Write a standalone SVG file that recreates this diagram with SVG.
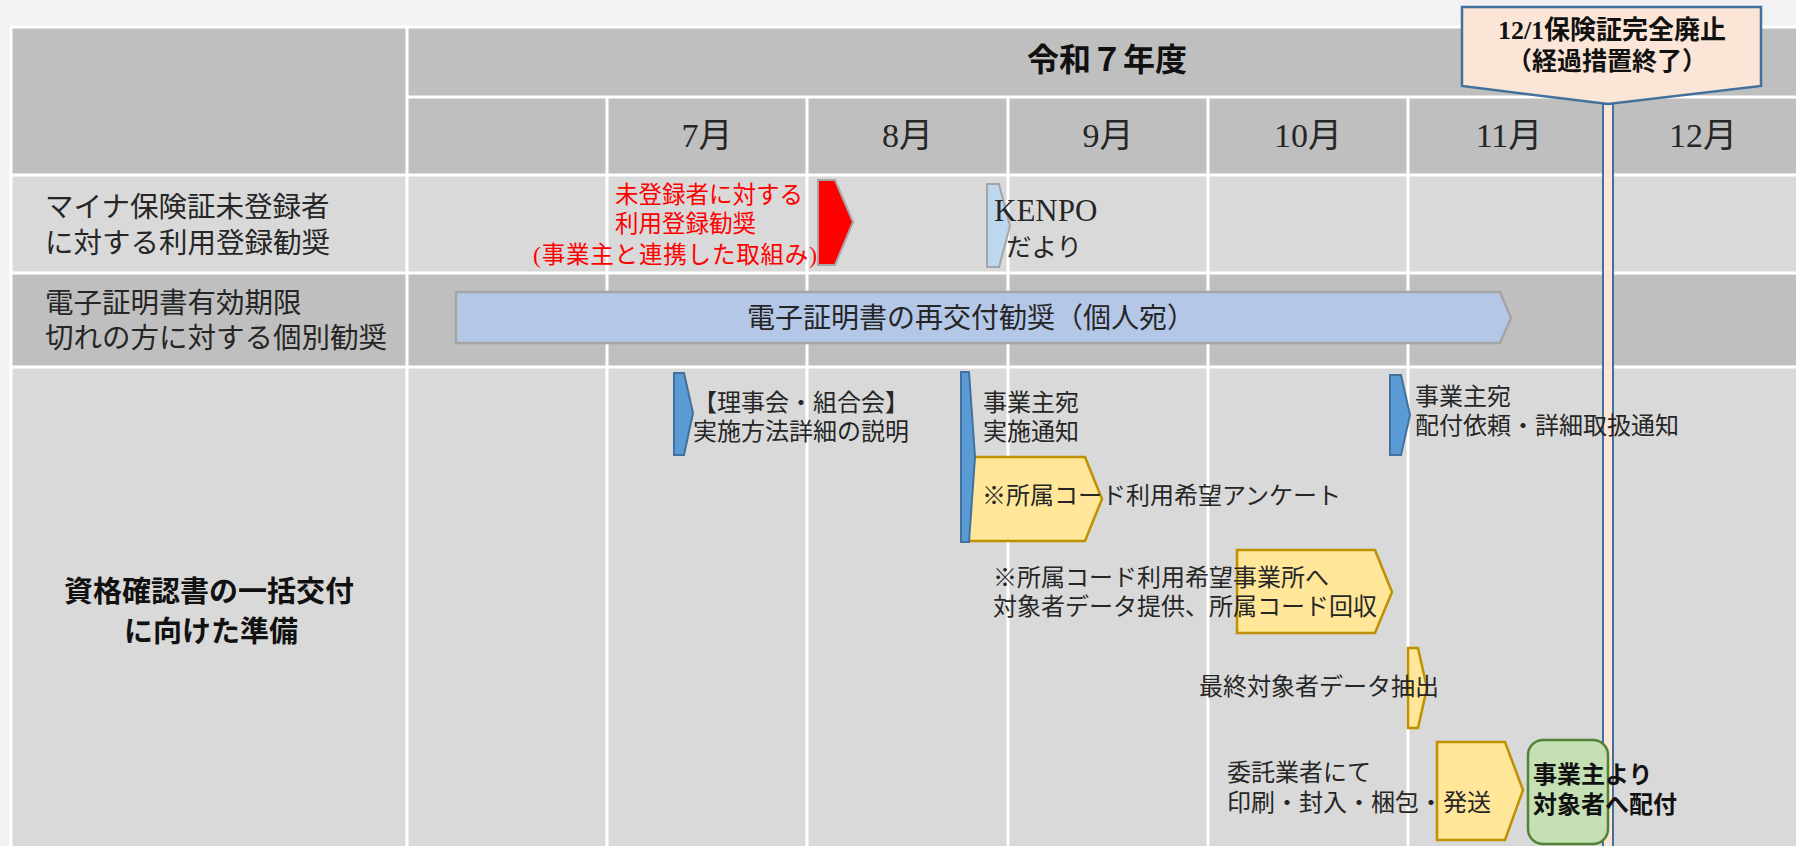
<svg xmlns="http://www.w3.org/2000/svg" width="1796" height="846" viewBox="0 0 1796 846">
<style>
.t{font-family:"Liberation Serif","Noto Sans CJK JP",serif;fill:#262626;dominant-baseline:central}
.b{font-weight:bold;fill:#111}
.s24{font-size:24px}
.lbl{font-size:28.5px}
.mon{font-size:34px;text-anchor:middle}
.red{fill:#ff0000;font-size:23.5px}
.grid{stroke:#ffffff;stroke-width:3;fill:none}
.dk{fill:#bfbfbf}
.lt{fill:#d9d9d9}
.blue{fill:#5b9bd5;stroke:#41719c;stroke-width:2}
.yel{fill:#ffe699;stroke:#bf9000;stroke-width:2.5}
</style>
<rect x="0" y="0" width="1796" height="846" fill="#f2f2f2"/>
<g id="table">
<rect class="dk" x="11" y="27" width="396" height="148"/>
<rect class="dk" x="407" y="27" width="1389" height="148"/>
<rect class="lt" x="11" y="175" width="1785" height="98"/>
<rect class="dk" x="11" y="273" width="1785" height="94"/>
<rect class="lt" x="11" y="367" width="1785" height="479"/>
<g class="grid">
<line x1="11" y1="27" x2="1796" y2="27"/>
<line x1="11" y1="27" x2="11" y2="846"/>
<line x1="407" y1="97" x2="1796" y2="97"/>
<line x1="11" y1="175" x2="1796" y2="175"/>
<line x1="11" y1="273" x2="1796" y2="273"/>
<line x1="11" y1="367" x2="1796" y2="367"/>
<line x1="407" y1="27" x2="407" y2="846"/>
<line x1="607" y1="97" x2="607" y2="846"/>
<line x1="807" y1="97" x2="807" y2="846"/>
<line x1="1008" y1="97" x2="1008" y2="846"/>
<line x1="1208" y1="97" x2="1208" y2="846"/>
<line x1="1408" y1="97" x2="1408" y2="846"/>
<line x1="1609" y1="97" x2="1609" y2="846"/>
</g>
<text class="t b" x="1107" y="60" font-size="32" text-anchor="middle">令和７年度</text>
<text class="t mon" x="707" y="135">7月</text>
<text class="t mon" x="907.5" y="135">8月</text>
<text class="t mon" x="1108" y="135">9月</text>
<text class="t mon" x="1308" y="135">10月</text>
<text class="t mon" x="1509" y="135">11月</text>
<text class="t mon" x="1703" y="135">12月</text>
</g>
<g id="row-labels">
<text class="t lbl" x="45" y="207">マイナ保険証未登録者</text>
<text class="t lbl" x="45" y="243">に対する利用登録勧奨</text>
<text class="t lbl" x="45" y="303">電子証明書有効期限</text>
<text class="t lbl" x="45" y="338">切れの方に対する個別勧奨</text>
<text class="t b" x="209" y="592" font-size="29" text-anchor="middle">資格確認書の一括交付</text>
<text class="t b" x="211" y="632" font-size="29" text-anchor="middle">に向けた準備</text>
</g>
<g id="deadline-line">
<rect x="1603" y="104" width="10" height="760" fill="#fbe5d6" stroke="#41719c" stroke-width="2"/>
</g>
<g id="deadline-callout">
<polygon points="1462,7 1761,7 1761,86 1608,104 1462,86" fill="#fbe5d6" stroke="#41719c" stroke-width="2.5"/>
<text class="t b" x="1612" y="30" font-size="26" text-anchor="middle">12/1保険証完全廃止</text>
<text class="t b" x="1607" y="61" font-size="25" text-anchor="middle">（経過措置終了）</text>
</g>
<g id="row1-employer">
<polygon points="818,180 835,180 853,222 835,265 818,265" fill="#ff0000" stroke="#a6a6a6" stroke-width="2"/>
<text class="t red" x="615" y="195">未登録者に対する</text>
<text class="t red" x="615" y="224">利用登録勧奨</text>
<text class="t red" x="533" y="255" textLength="284" lengthAdjust="spacing">(事業主と連携した取組み)</text>
</g>
<g id="row1-kenpo">
<polygon points="987,184 999,184 1010,226 999,267 987,267" fill="#bdd7ee" stroke="#a5a5a5" stroke-width="2"/>
<text class="t" x="994" y="210" font-size="31">KENPO</text>
<text class="t" x="1006" y="247" font-size="25.5">だより</text>
</g>
<g id="row2-reissue">
<polygon points="456,292 1500,292 1511,318 1500,343 456,343" fill="#b4c7e7" stroke="#a5a5a5" stroke-width="2.5"/>
<text class="t" x="971" y="318" font-size="28" text-anchor="middle">電子証明書の再交付勧奨（個人宛）</text>
</g>
<g id="row3-board">
<polygon class="blue" points="674,373 684,373 693,413 684,455 674,455"/>
<text class="t s24" x="693" y="403">【理事会・組合会】</text>
<text class="t s24" x="693" y="432">実施方法詳細の説明</text>
</g>
<g id="row3-survey">
<polygon class="yel" points="962,457 1085,457 1102,499 1085,541 962,541"/>
<text class="t s24" x="982" y="496">※所属コード利用希望アンケート</text>
</g>
<g id="row3-notice">
<polygon class="blue" points="961,372 969,372 975,457 969,542 961,542"/>
<text class="t s24" x="983" y="403">事業主宛</text>
<text class="t s24" x="983" y="432">実施通知</text>
</g>
<g id="row3-data">
<polygon class="yel" points="1237,550 1375,550 1392,592 1375,633 1237,633"/>
<text class="t s24" x="993" y="578">※所属コード利用希望事業所へ</text>
<text class="t s24" x="993" y="607">対象者データ提供、所属コード回収</text>
</g>
<g id="row3-delivery-notice">
<polygon class="blue" points="1390,375 1401,375 1410,415 1401,455 1390,455"/>
<text class="t s24" x="1415" y="397">事業主宛</text>
<text class="t s24" x="1415" y="426">配付依頼・詳細取扱通知</text>
</g>
<g id="row3-extract">
<polygon class="yel" points="1408,648 1418,648 1427,688 1418,728 1408,728"/>
<text class="t s24" x="1199" y="687">最終対象者データ抽出</text>
</g>
<g id="row3-print">
<polygon class="yel" points="1437,742 1505,742 1523,790 1505,840 1437,840"/>
<text class="t s24" x="1227" y="773">委託業者にて</text>
<text class="t s24" x="1227" y="803">印刷・封入・梱包・発送</text>
</g>
<g id="row3-distribute">
<rect x="1528" y="740" width="80" height="104" rx="15" fill="#c5e0b4" stroke="#548235" stroke-width="2.5"/>
<text class="t s24 b" x="1533" y="775">事業主より</text>
<text class="t s24 b" x="1533" y="805">対象者へ配付</text>
</g>
<g id="connectors"></g>
</svg>
